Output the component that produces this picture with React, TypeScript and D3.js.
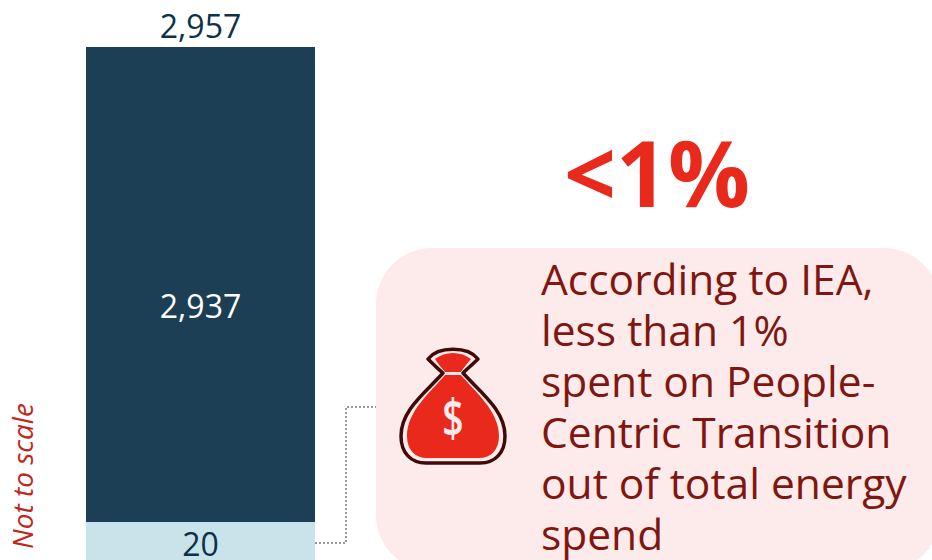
import React from "react";
import * as d3 from "d3";

const categories = ["Total energy spend"];
const segmentNames = ["People-Centric Transition", "Other"];
const segmentValues = [20, 2937];
const totalLabel = 2957;
const calloutLines = [
  "According to IEA,",
  "less than 1%",
  "spent on People-",
  "Centric Transition",
  "out of total energy",
  "spend",
];
const headline = "<1%";
const note = "Not to scale";

const fmt = d3.format(",");
const W = 932;
const H = 560;
const FONT = "'Open Sans', sans-serif";

export default function App() {
  const x = d3.scaleBand().domain(categories).range([86, 315]);
  // The source is explicitly not to scale: piecewise scale
  const y = d3.scaleLinear().domain([0, 20, 2957]).range([560, 522, 47]);
  const stack = d3.stack<number[]>().keys([0, 1] as any).value((_, k: any) => segmentValues[k])([segmentValues]);
  const fills = ["#c9e3ea", "#1c3f55"];
  const textFills = ["#0d3148", "#ffffff"];
  const cx = (x(categories[0]) as number) + x.bandwidth() / 2;
  const connector = d3.line()([[315, 543], [346, 543], [346, 407], [376, 407]]) as string;

  return (
    <svg width={W} height={H} viewBox={`0 0 ${W} ${H}`} style={{ position: "absolute", left: 0, top: 0, background: "#fff" }} fontFamily={FONT}>
      {stack.map((s, i) => {
        const [a, b] = s[0];
        return (
          <g key={segmentNames[i]}>
            <rect x={x(categories[0])} width={x.bandwidth()} y={y(b)} height={y(a) - y(b)} fill={fills[i]} />
          </g>
        );
      })}
      <text x={cx} y={556} textAnchor="middle" fontSize={32} fill={textFills[0]}>{fmt(segmentValues[0])}</text>
      <text x={cx} y={318} textAnchor="middle" fontSize={32} fill={textFills[1]}>{fmt(segmentValues[1])}</text>
      <text x={cx} y={y(totalLabel) - 9} textAnchor="middle" fontSize={32} fill={textFills[0]}>{fmt(totalLabel)}</text>

      <text transform="translate(33,549) rotate(-90)" fontSize={28} fontStyle="italic" fill="#c0271c">{note}</text>

      <rect x={376} y={248} width={564} height={323} rx={56} ry={56} fill="#fdebeb" />
      <path d={connector} fill="none" stroke="#999999" strokeWidth={2} strokeDasharray="2 2" />

      <text x={657} y={207} textAnchor="middle" fontSize={91} fontWeight={700} fill="#e8291b">{headline}</text>

      {calloutLines.map((t, i) => (
        <text key={t} x={541} y={295 + i * 51} fontSize={42.5} fill="#7f1710">{t}</text>
      ))}

      <g>
        <path
          d="M428 359 C438 346 468 346 478 359 C473 364 467 369 463 373 C480 392 505 410 505 436 C505 453 495 463 480 463 L426 463 C411 463 401 453 401 436 C401 410 426 392 443 373 C438 369 433 364 428 359 Z"
          fill="#fdebeb" stroke="#3f0a08" strokeWidth={3.5} strokeLinejoin="round"
        />
        <path d="M435 359 C445 351 461 351 471 359 C467 364 463 368 461 372 L445 372 C442 368 438 364 435 359 Z" fill="#e8291b" />
        <path d="M445 375 L461 375 C476 393 499 411 499 436 C499 450 491 458 479 458 L427 458 C415 458 407 450 407 436 C407 411 430 393 445 375 Z" fill="#e8291b" />
        <text transform="translate(453,437) scale(0.72,1)" textAnchor="middle" fontSize={52} fontWeight={600} fill="#fdebeb">$</text>
      </g>
    </svg>
  );
}
